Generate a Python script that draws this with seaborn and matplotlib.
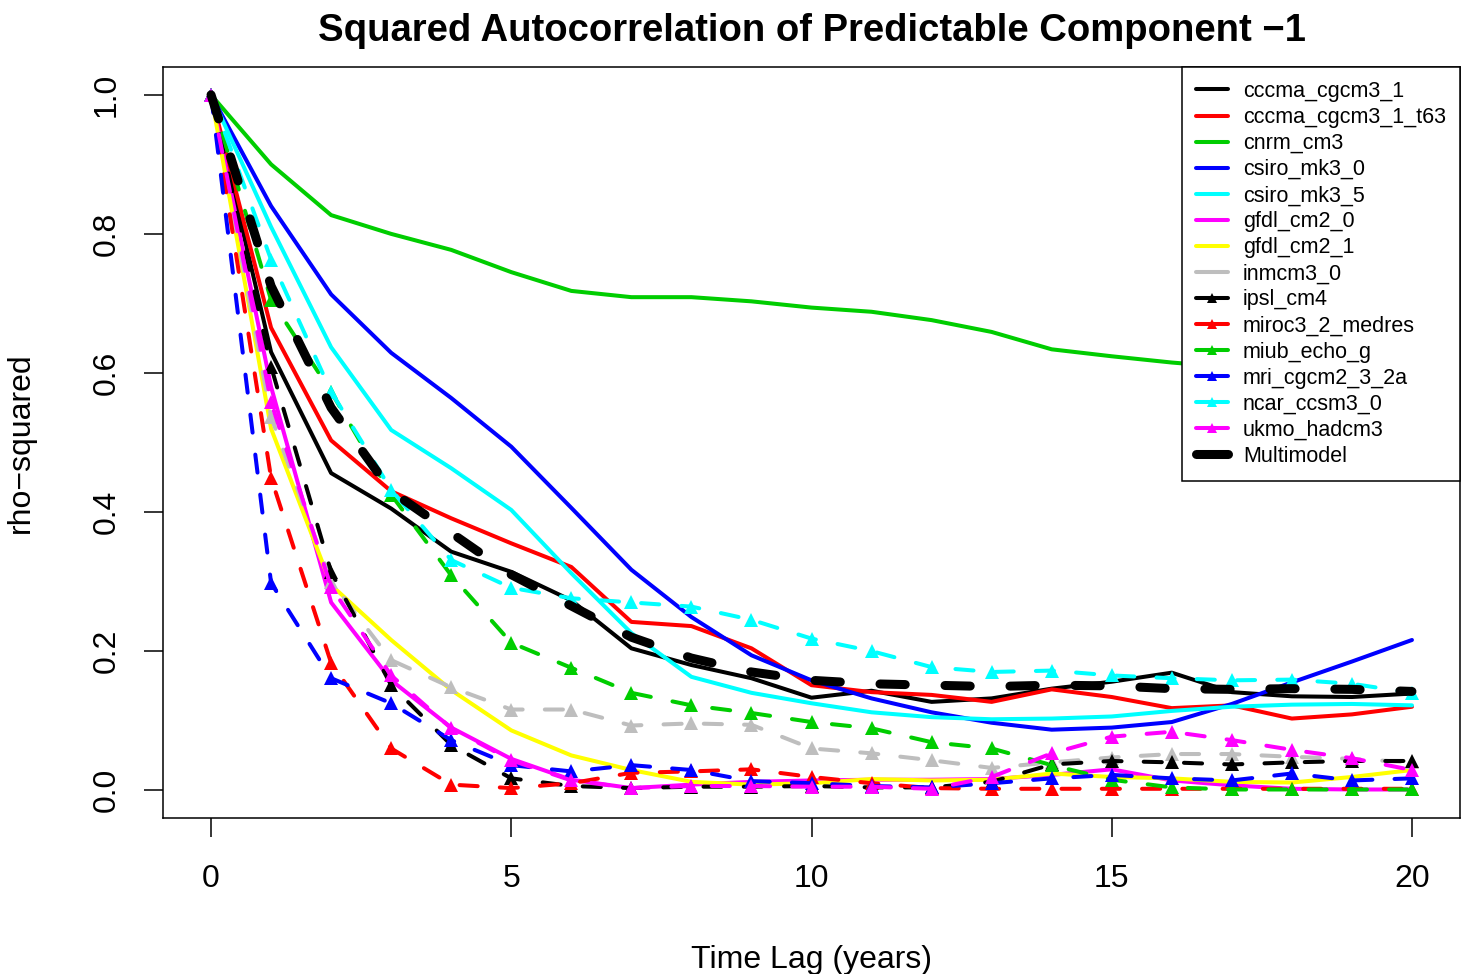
import matplotlib
matplotlib.use("Agg")
import matplotlib.pyplot as plt
from matplotlib.lines import Line2D
import seaborn as sns

# Lags (years) and squared autocorrelation of the leading predictable component
lags = list(range(0, 21))

cccma_cgcm3_1 = [1.0, 0.63, 0.456, 0.405, 0.343, 0.314, 0.273, 0.204, 0.18, 0.161, 0.133,
                 0.143, 0.127, 0.132, 0.146, 0.156, 0.169, 0.141, 0.135, 0.134, 0.139]
cccma_cgcm3_1_t63 = [1.0, 0.665, 0.503, 0.43, 0.391, 0.355, 0.321, 0.242, 0.236, 0.204, 0.151,
                     0.141, 0.137, 0.127, 0.145, 0.134, 0.118, 0.122, 0.103, 0.109, 0.120]
cnrm_cm3 = [1.0, 0.90, 0.827, 0.80, 0.777, 0.745, 0.718, 0.709, 0.709, 0.703, 0.694,
            0.688, 0.676, 0.659, 0.634, 0.624, 0.615, 0.608, 0.601, 0.597, 0.59]
csiro_mk3_0 = [1.0, 0.84, 0.713, 0.629, 0.564, 0.494, 0.406, 0.317, 0.249, 0.194, 0.158,
               0.132, 0.112, 0.097, 0.087, 0.090, 0.098, 0.124, 0.155, 0.185, 0.216]
csiro_mk3_5 = [1.0, 0.81, 0.637, 0.518, 0.463, 0.403, 0.312, 0.226, 0.163, 0.14, 0.125,
               0.112, 0.105, 0.102, 0.103, 0.106, 0.114, 0.12, 0.123, 0.124, 0.122]
gfdl_cm2_0 = [1.0, 0.58, 0.27, 0.158, 0.09, 0.045, 0.015, 0.003, 0.008, 0.012, 0.014,
              0.015, 0.015, 0.016, 0.022, 0.03, 0.014, 0.007, 0.002, 0.001, 0.001]
gfdl_cm2_1 = [1.0, 0.52, 0.295, 0.216, 0.144, 0.086, 0.05, 0.029, 0.012, 0.008, 0.01,
              0.016, 0.014, 0.015, 0.024, 0.019, 0.017, 0.012, 0.011, 0.019, 0.029]
inmcm3_0 = [1.0, 0.537, 0.30, 0.187, 0.148, 0.116, 0.116, 0.093, 0.096, 0.094, 0.06,
            0.053, 0.043, 0.032, 0.04, 0.047, 0.052, 0.052, 0.048, 0.045, 0.04]
ipsl_cm4 = [1.0, 0.609, 0.314, 0.151, 0.065, 0.017, 0.006, 0.003, 0.005, 0.005, 0.006,
            0.004, 0.004, 0.012, 0.037, 0.042, 0.040, 0.037, 0.040, 0.042, 0.042]
miroc3_2_medres = [1.0, 0.449, 0.183, 0.06, 0.008, 0.003, 0.01, 0.025, 0.027, 0.03, 0.019,
                   0.01, 0.003, 0.002, 0.002, 0.002, 0.002, 0.002, 0.002, 0.002, 0.002]
miub_echo_g = [1.0, 0.705, 0.573, 0.425, 0.309, 0.212, 0.176, 0.14, 0.122, 0.111, 0.098,
               0.089, 0.069, 0.06, 0.036, 0.015, 0.004, 0.001, 0.001, 0.001, 0.001]
mri_cgcm2_3_2a = [1.0, 0.298, 0.161, 0.125, 0.072, 0.036, 0.027, 0.036, 0.029, 0.013, 0.01,
                  0.006, 0.004, 0.01, 0.017, 0.022, 0.017, 0.014, 0.024, 0.014, 0.017]
ncar_ccsm3_0 = [1.0, 0.763, 0.573, 0.432, 0.331, 0.291, 0.276, 0.27, 0.264, 0.245, 0.218,
                0.2, 0.177, 0.17, 0.172, 0.165, 0.161, 0.158, 0.159, 0.153, 0.140]
ukmo_hadcm3 = [1.0, 0.558, 0.292, 0.165, 0.089, 0.043, 0.014, 0.003, 0.006, 0.006, 0.005,
               0.005, 0.002, 0.019, 0.053, 0.077, 0.084, 0.072, 0.058, 0.046, 0.029]
multimodel = [1.0, 0.725, 0.55, 0.43, 0.37, 0.31, 0.265, 0.22, 0.19, 0.17, 0.158,
              0.153, 0.151, 0.149, 0.151, 0.15, 0.146, 0.145, 0.146, 0.145, 0.142]

model_names = ["cccma_cgcm3_1", "cccma_cgcm3_1_t63", "cnrm_cm3", "csiro_mk3_0",
               "csiro_mk3_5", "gfdl_cm2_0", "gfdl_cm2_1", "inmcm3_0", "ipsl_cm4",
               "miroc3_2_medres", "miub_echo_g", "mri_cgcm2_3_2a", "ncar_ccsm3_0",
               "ukmo_hadcm3"]
model_values = [cccma_cgcm3_1, cccma_cgcm3_1_t63, cnrm_cm3, csiro_mk3_0, csiro_mk3_5,
                gfdl_cm2_0, gfdl_cm2_1, inmcm3_0, ipsl_cm4, miroc3_2_medres, miub_echo_g,
                mri_cgcm2_3_2a, ncar_ccsm3_0, ukmo_hadcm3]
model_colors = ["#000000", "#FF0000", "#00CD00", "#0000FF", "#00FFFF", "#FF00FF",
                "#FFFF00", "#BEBEBE", "#000000", "#FF0000", "#00CD00", "#0000FF",
                "#00FFFF", "#FF00FF"]
# drawn as dashed lines with triangles
dashed_models = {"inmcm3_0", "ipsl_cm4", "miroc3_2_medres", "miub_echo_g",
                 "mri_cgcm2_3_2a", "ncar_ccsm3_0", "ukmo_hadcm3"}
# shown with a triangle in the key
keyed_triangles = {"ipsl_cm4", "miroc3_2_medres", "miub_echo_g", "mri_cgcm2_3_2a",
                   "ncar_ccsm3_0", "ukmo_hadcm3"}

x_ticks = [0, 5, 10, 15, 20]
y_ticks = [0.0, 0.2, 0.4, 0.6, 0.8, 1.0]
y_tick_labels = ["0.0", "0.2", "0.4", "0.6", "0.8", "1.0"]

sns.set_theme(style="ticks")
plt.rcParams["font.family"] = ["Liberation Sans", "DejaVu Sans"]
plt.rcParams["text.color"] = "black"
plt.rcParams["axes.labelcolor"] = "black"
plt.rcParams["xtick.color"] = "black"
plt.rcParams["ytick.color"] = "black"

W, H = 1470, 974
fig = plt.figure(figsize=(W / 100, H / 100), dpi=100)
ax = fig.add_axes([163 / W, 1 - 818 / H, (1460 - 163) / W, (818 - 67) / H])

LW = 2.9
for name, vals, col in zip(model_names, model_values, model_colors):
    if name in dashed_models:
        sns.lineplot(x=lags, y=vals, ax=ax, color=col, lw=LW, errorbar=None,
                     linestyle=(0, (4.5, 5.5)), marker="^", markersize=10.5,
                     markeredgewidth=0, markerfacecolor=col)
    else:
        sns.lineplot(x=lags, y=vals, ax=ax, color=col, lw=LW, errorbar=None)
    ln = ax.lines[-1]
    ln.set_dash_capstyle("round")
    ln.set_solid_capstyle("round")
    ln.set_solid_joinstyle("round")

sns.lineplot(x=lags, y=multimodel, ax=ax, color="black", lw=6.5, errorbar=None,
             linestyle=(0, (2.8, 4.4)))
ax.lines[-1].set_dash_capstyle("round")

ax.set_xlim(-0.8, 20.8)
ax.set_ylim(-0.04, 1.04)
ax.set_xticks(x_ticks)
ax.set_xticklabels([str(t) for t in x_ticks])
ax.set_yticks(y_ticks)
ax.set_yticklabels(y_tick_labels, rotation=90, va="center")

for sp in ax.spines.values():
    sp.set_visible(True)
    sp.set_color("black")
    sp.set_linewidth(1.1)
ax.tick_params(axis="both", direction="out", length=14, width=1.1, colors="black",
               labelsize=23, labelcolor="black")
ax.tick_params(axis="x", pad=19)
ax.tick_params(axis="y", pad=16)

ax.set_title("Squared Autocorrelation of Predictable Component \u22121",
             fontsize=27.5, fontweight="bold", pad=19, color="black")
ax.set_xlabel("Time Lag (years)", fontsize=23, labelpad=37, color="black")
ax.set_ylabel("rho\u2212squared", fontsize=23, labelpad=40, color="black")

handles = []
for name, col in zip(model_names, model_colors):
    if name in keyed_triangles:
        handles.append(Line2D([], [], color=col, lw=LW, marker="^", markersize=7,
                              markeredgewidth=0, solid_capstyle="round"))
    else:
        handles.append(Line2D([], [], color=col, lw=LW, solid_capstyle="round"))
handles.append(Line2D([], [], color="black", lw=6.5, solid_capstyle="round"))
labels = model_names + ["Multimodel"]

leg = ax.legend(handles, labels, loc="upper right", fontsize=15.5, frameon=True,
                fancybox=False, framealpha=1, edgecolor="black", borderaxespad=0,
                handlelength=1.5, handletextpad=0.7, labelspacing=0.235,
                borderpad=0.65, numpoints=1)
leg.get_frame().set_linewidth(1.1)
leg.set_zorder(10)
for t in leg.get_texts():
    t.set_color("black")

fig.savefig("out.png", dpi=100, facecolor="white")
